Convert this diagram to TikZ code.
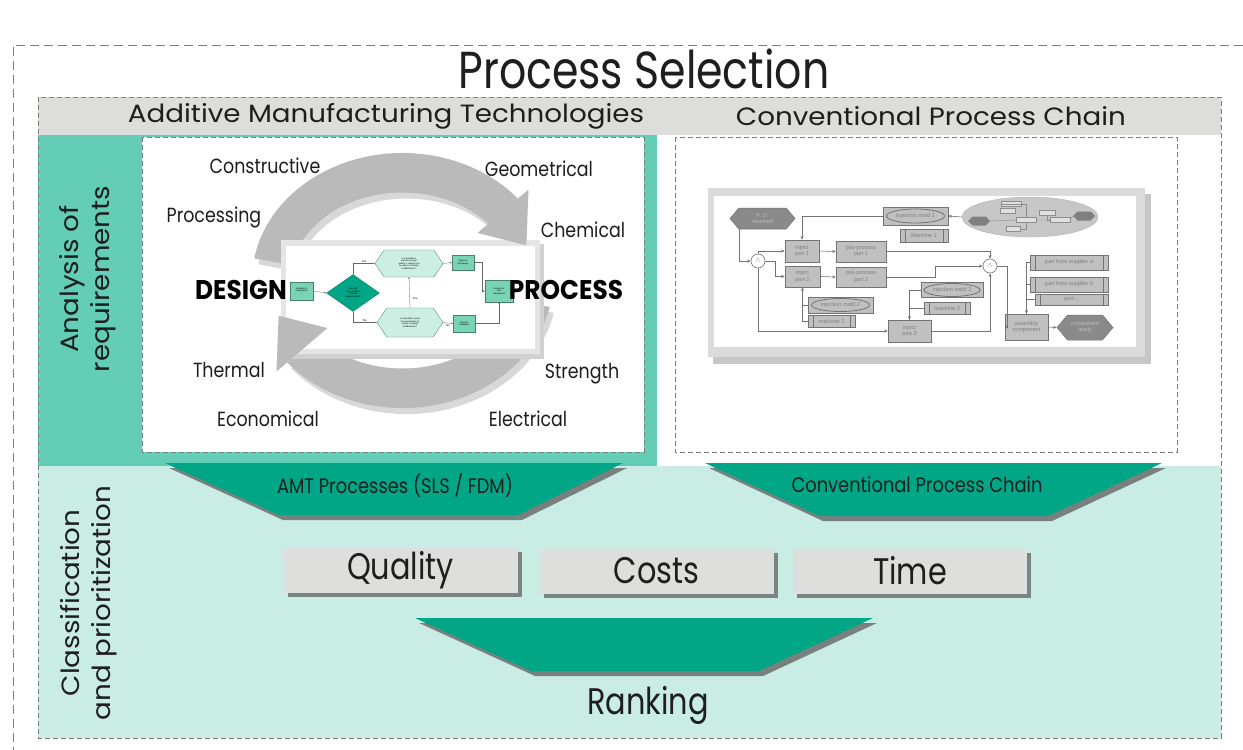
\documentclass[tikz,border=0pt]{standalone}
\usepackage{fontspec}
\setmainfont{Poppins}[FakeStretch=0.82]
\newfontfamily\fW{Poppins}[FakeStretch=1.11]
\newfontfamily\fL{Poppins}[FakeStretch=0.85]
\newfontfamily\fD{Poppins}[FakeStretch=0.92]
\newfontfamily\smallf{Liberation Sans}
\usetikzlibrary{calc,shapes.geometric,shapes.symbols,arrows.meta,shadows}
\definecolor{tealdark}{RGB}{0,166,133}
\definecolor{tealmid}{RGB}{99,206,181}
\definecolor{teallight}{RGB}{201,237,229}
\definecolor{hdrgray}{RGB}{221,221,219}
\definecolor{boxgray}{RGB}{222,222,220}
\definecolor{arcgray}{RGB}{186,186,186}
\definecolor{dashgray}{RGB}{125,125,125}
\definecolor{fcgreen}{RGB}{120,212,180}
\definecolor{fclight}{RGB}{205,238,226}
\definecolor{pgray}{RGB}{192,192,192}
\definecolor{pdark}{RGB}{138,138,138}
\definecolor{txt}{RGB}{30,30,30}
\newcommand\arcband[7]{% center, r_out x, r_out y, r_in x, r_in y, start, end
  ($(#1)+(#6:#2 and #3)$) arc[start angle=#6, end angle=#7, x radius=#2, y radius=#3]
  -- ($(#1)+(#7:#4 and #5)$) arc[start angle=#7, end angle=#6, x radius=#4, y radius=#5] -- cycle}
\begin{document}
\begin{tikzpicture}[x=1pt,y=-1pt,
  dashbox/.style={draw=dashgray, dash pattern=on 5pt off 3pt, line width=0.8pt},
  hdr/.style={font=\fW\fontsize{25}{28}\selectfont, text=txt, inner sep=0},
  side/.style={font=\fW\fontsize{25}{31}\selectfont, text=txt, inner sep=0, align=center, rotate=90},
  lbl/.style={font=\fL\fontsize{20.5}{23}\selectfont, text=txt, inner sep=0},
  big/.style={font=\fD\fontsize{27}{30}\bfseries\selectfont, text=black, inner sep=0},
  qbox/.style={fill=boxgray, minimum width=234pt, minimum height=45pt, inner sep=0,
     font=\fontsize{37}{40}\selectfont, text=txt,
     drop shadow={shadow xshift=4pt, shadow yshift=-4pt, fill=black!65, opacity=0.7}},
  traptxt/.style={font=\fL\fontsize{21}{24}\selectfont, text=txt, inner sep=0},
  fcbox/.style={draw=fcgreen!60!black, fill=fcgreen, line width=0.3pt, inner sep=0.3pt, align=center, font=\smallf\fontsize{2.2}{2.5}\selectfont},
  fchex/.style={signal, signal to=east and west, signal pointer angle=112, draw=fcgreen!60!black, fill=fclight, line width=0.3pt, inner sep=0.3pt, align=center, font=\smallf\fontsize{2.2}{2.5}\selectfont},
  fcarr/.style={draw=black!60, line width=0.3pt, -{Stealth[length=2pt,width=1.6pt]}},
  fclab/.style={font=\smallf\fontsize{2.8}{3}\selectfont, inner sep=0},
  pbox/.style={draw=black!55, fill=pgray, line width=0.5pt, inner sep=0.5pt, align=center, font=\smallf\fontsize{5.6}{6.4}\selectfont, text=black!50},
  phex/.style={signal, signal to=east and west, signal pointer angle=100, fill=pdark, draw=black!55, line width=0.5pt, inner sep=0.5pt, align=center, font=\smallf\fontsize{5.6}{6.4}\selectfont, text=black!25},
  pcirc/.style={circle, draw=black!55, fill=white, line width=0.6pt, minimum size=14pt, inner sep=0, font=\fontsize{7}{7}\selectfont, text=black!55},
  parr/.style={draw=black!55, line width=0.6pt, -{Stealth[length=3.5pt,width=3pt]}},
  pline/.style={draw=black!55, line width=0.6pt},
]
\useasboundingbox (0,0) rectangle (1243,750);
\fill[white] (0,0) rectangle (1243,750);
% outer frame
\draw[dashgray, dash pattern=on 9pt off 5pt, line width=0.9pt] (1243,45) -- (13,45) -- (13,750);
\node[font=\fontsize{52}{58}\selectfont, text=txt, inner sep=0] (title) at (644,69) {Process Selection};
% regions
\fill[hdrgray] (38,97) rectangle (1221,135);
\fill[tealmid] (38,135) rectangle (657,466);
\fill[teallight] (38,466) rectangle (1221,738);
\draw[dashbox] (38,97) rectangle (1221,738);
\draw[dashbox, fill=white] (142,137) rectangle (644,452);
\draw[dashbox, fill=white] (675,137) rectangle (1177,452);
\node[hdr] (hamt) at (386,116) {Additive Manufacturing Technologies};
\node[hdr] (hcpc) at (931,116) {Conventional Process Chain};
\node[side] (req) at (88,279) {Analysis of\\requirements};
\node[side] (cls) at (89,603) {Classification\\and prioritization};

% ---------- AM cycle ----------
\coordinate (ac) at (402.5,280.5);
\coordinate (acs) at (406.5,286.5);
\fill[black!25, opacity=0.6] \arcband{acs}{150.5}{127.5}{112}{88}{190}{320};
\fill[black!25, opacity=0.6] \arcband{acs}{150.5}{127.5}{112}{88}{12}{140};
\fill[arcgray] \arcband{ac}{150.5}{127.5}{112}{88}{190}{320};
\fill[arcgray] \arcband{ac}{150.5}{127.5}{112}{88}{12}{140};
% inner panel
\fill[black!18] (284,244) rectangle (544,359);
\fill[black!10] (281,240) rectangle (540,354);
\fill[white] (286,246) rectangle (535,349);
% arrow heads
\fill[arcgray] ($(ac)+(320:164.5 and 141.5)$) -- ($(ac)+(341:131 and 108)$) -- ($(ac)+(320:98 and 74)$) -- cycle;
\fill[arcgray] ($(ac)+(140:164.5 and 141.5)$) -- ($(ac)+(161:131 and 108)$) -- ($(ac)+(140:98 and 74)$) -- cycle;
% mini flowchart
\node[fcbox, minimum width=23pt, minimum height=18pt] (a1) at (301.5,291) {Analysis of\\requirement\\i};
\node[diamond, aspect=1.43, fill=tealdark, draw=tealdark!70!black, line width=0.3pt, minimum width=53pt, minimum height=37pt, inner sep=0, align=center, font=\smallf\fontsize{2.2}{2.5}\selectfont] (dia) at (353,293) {Does the\\part geometry\\meet the\\requirements?};
\node[fchex, minimum width=68pt, minimum height=27pt] (h1) at (409,263.5) {Is it possible to\\improve the part\\quality or reduce cost\\by means of design\\modifications?};
\node[fchex, minimum width=66pt, minimum height=29pt] (h2) at (410,322.5) {Is it possible to meet\\the requirement by\\means of design\\modifications?};
\node[fcbox, minimum width=22pt, minimum height=15pt] (ap) at (463,262.5) {Approve\\part design};
\node[fcbox, minimum width=28pt, minimum height=22pt] (an) at (499,291) {Analysis of\\next\\requirement};
\node[fcbox, minimum width=22pt, minimum height=17pt] (dc) at (464,323.5) {Discard\\Candidate};
\draw[fcarr] (a1.east) -- (dia.west);
\draw[fcarr] (dia.north) |- (h1.west) node[fclab, pos=0.75, above=1pt] (y1) {Yes};
\draw[fcarr] (dia.south) |- (h2.west) node[fclab, pos=0.75, above=1pt] (n1) {No};
\draw[fcarr] (h2.north) -- (h1.south) node[fclab, pos=0.3, right=3pt] (y2) {Yes};
\draw[fcarr] (h1.east) -- (ap.west);
\draw[fcarr] (h2.east) -- (dc.west) node[fclab, midway, below=1pt] (n2) {No};
\draw[fcarr] (ap.east) -- ++(8,0) |- (an.west);
\draw[fcarr] (dc.east) -| (an.south);
% labels
\node[lbl] (l1) at (265,166) {Constructive};
\node[lbl] (l2) at (539,169) {Geometrical};
\node[lbl] (l3) at (214,217) {Processing};
\node[lbl] (l4) at (583,230) {Chemical};
\node[big] (ld) at (241,290) {DESIGN};
\node[big] (lp) at (566,290) {PROCESS};
\node[lbl] (l5) at (229,370) {Thermal};
\node[lbl] (l6) at (582,374) {Strength};
\node[lbl] (l7) at (268,419) {Economical};
\node[lbl] (l8) at (528,419) {Electrical};

% ---------- conventional process chain panel ----------
\fill[black!22] (713,194) rectangle (1151,364);
\fill[black!14] (708,188) rectangle (1145,357);
\fill[white] (714,196) rectangle (1136,347);
% ellipse sub-process
\node[ellipse, fill=black!22, draw=black!30, minimum width=136pt, minimum height=40pt, inner sep=0] (ell) at (1030,217) {};
\node[signal, signal to=east and west, fill=black!50, minimum width=22pt, minimum height=9pt, inner sep=0] (eh1) at (979,221) {};
\node[signal, signal to=east and west, fill=black!50, minimum width=22pt, minimum height=9pt, inner sep=0] (eh2) at (1084,216) {};
\node[draw=black!45, fill=black!12, minimum width=20pt, minimum height=5pt, inner sep=0] (eb1) at (1011,204) {};
\node[draw=black!45, fill=black!12, minimum width=15pt, minimum height=5pt, inner sep=0] (eb2) at (1008,211) {};
\node[draw=black!45, fill=black!12, minimum width=20pt, minimum height=5pt, inner sep=0] (eb3) at (1026,220) {};
\node[draw=black!45, fill=black!12, minimum width=14pt, minimum height=5pt, inner sep=0] (eb4) at (1013,229) {};
\node[draw=black!45, fill=black!12, minimum width=16pt, minimum height=5pt, inner sep=0] (eb5) at (1047,213) {};
\node[draw=black!45, fill=black!12, minimum width=20pt, minimum height=5pt, inner sep=0] (eb6) at (1060,220) {};
\draw[black!45, line width=0.4pt] (eh1.east) -- (eb3.west) (eb3.east) -- (eb6.west) (eb6.east) -- (eh2.west);
\draw[black!45, line width=0.4pt] (eb1.west) -| (eb3.north) (eb4.east) -| (eb3.south) (eb5.south) |- (eb6.west);

\node[phex, minimum width=65pt, minimum height=21pt] (po) at (762.5,218.5) {P. O.\\received};
\node[pcirc] (c1) at (758,261) {$\wedge$};
\node[pbox, minimum width=34pt, minimum height=22pt] (ip1) at (802,251) {inject\\part 1};
\node[pbox, minimum width=35pt, minimum height=21pt] (ip2) at (802.5,276.5) {inject\\part 2};
\node[pbox, minimum width=50pt, minimum height=21pt] (pp1) at (861,251.5) {pos-process\\part 1};
\node[pbox, minimum width=50pt, minimum height=20pt] (pp2) at (861,277) {pos-process\\part 2};
\node[pbox, minimum width=65pt, minimum height=18pt] (m1) at (915.5,216) {};
\node[ellipse, draw=black!55, line width=0.8pt, fill=pgray, minimum width=58pt, minimum height=14pt, inner sep=0, font=\smallf\fontsize{5.6}{6.4}\selectfont, text=black!50] (m1e) at (m1) {Injection mold 1};
\node[pbox, minimum width=48pt, minimum height=13pt] (mc1) at (924,235.5) {Machine 1};
\node[pbox, minimum width=65pt, minimum height=16pt] (m2) at (840.5,305) {};
\node[ellipse, draw=black!55, line width=0.8pt, fill=pgray, minimum width=58pt, minimum height=13pt, inner sep=0, font=\smallf\fontsize{5.6}{6.4}\selectfont, text=black!50] (m2e) at (m2) {injection mold 2};
\node[pbox, minimum width=47pt, minimum height=12pt] (mc2) at (831.5,321) {machine 2};
\node[pbox, minimum width=43pt, minimum height=22pt] (ip3) at (909.5,331) {inject\\part 3};
\node[pbox, minimum width=62pt, minimum height=15pt] (m3) at (952,290) {};
\node[ellipse, draw=black!55, line width=0.8pt, fill=pgray, minimum width=56pt, minimum height=13pt, inner sep=0, font=\smallf\fontsize{5.6}{6.4}\selectfont, text=black!50] (m3e) at (m3) {injection mold 3};
\node[pbox, minimum width=46pt, minimum height=12pt] (mc3) at (947,308) {machine 2};
\node[pcirc] (c2) at (990,266) {$\wedge$};
\node[pbox, minimum width=43pt, minimum height=26pt] (asm) at (1026.5,327) {assembly\\component};
\node[phex, minimum width=56pt, minimum height=25pt] (cr) at (1085,327.5) {component\\ready};
\node[pbox, minimum width=78pt, minimum height=15pt] (sa) at (1069,262.5) {part from supplier a};
\node[pbox, minimum width=78pt, minimum height=15pt] (sb) at (1069,284.5) {part from supplier b};
\node[pbox, minimum width=73pt, minimum height=11pt] (sp) at (1071.5,299.5) {part...};
\foreach \n in {mc1,mc2,mc3,sa,sb,sp}{
  \draw[black!55, line width=0.5pt] ($(\n.north west)+(5,0)$) -- ($(\n.south west)+(5,0)$);
  \draw[black!55, line width=0.5pt] ($(\n.north east)+(-5,0)$) -- ($(\n.south east)+(-5,0)$);
}
\draw[parr] ($(po.south)+(-23,0)$) |- (c1.west);
\draw[parr] (c1.north) |- (ip1.west);
\draw[parr] (c1.east) -- ++(10,0) |- (ip2.west);
\draw[parr] (c1.south) |- (ip3.west);
\draw[parr] (ip1.east) -- (pp1.west);
\draw[parr] (ip2.east) -- (pp2.west);
\draw[parr] (m1.west) -| (ip1.north);
\draw[parr] (m2.west) -| (ip2.south);
\draw[pline] (mc2.west) -| (ip2.south);
\draw[parr] (m3.west) -| (ip3.north);
\draw[pline] (mc3.west) -| (ip3.north);
\draw[parr] (pp1.east) -| (c2.north);
\draw[parr] (pp2.east) -- ++(49,0) |- (c2.west);
\draw[parr] (ip3.east) -| (c2.south);
\draw[parr] (c2.east) -- ++(10,0) |- (asm.west);
\draw[parr] (asm.east) -- (cr.west);
\draw[parr] (sa.west) -| (asm.north);
\draw[pline] (sb.west) -| (asm.north);
\draw[pline] (sp.west) -| (asm.north);
\draw[parr] (ell.west) -- (m1.east);

% ---------- trapezoids ----------
\fill[black!60, opacity=0.8] (169,468) -- (627,468) -- (522,520) -- (283,520) -- cycle;
\fill[tealdark] (165,463) -- (623,463) -- (518,515) -- (279,515) -- cycle;
\node[traptxt] (amtp) at (395,486) {AMT Processes (SLS / FDM)};
\fill[black!60, opacity=0.8] (709,468) -- (1166,468) -- (1052,521) -- (823,521) -- cycle;
\fill[tealdark] (705,463) -- (1162,463) -- (1048,516) -- (819,516) -- cycle;
\node[traptxt] (cpcp) at (917,485) {Conventional Process Chain};
% boxes
\node[qbox] (qual) at (400.5,570.5) {Quality};
\node[qbox] (cost) at (656.5,571) {Costs};
\node[qbox] (time) at (910,571) {Time};
% ranking
\fill[black!60, opacity=0.8] (419,623) -- (877,623) -- (763,676) -- (535,676) -- cycle;
\fill[tealdark] (415,618) -- (873,618) -- (759,671) -- (531,671) -- cycle;
\node[font=\fontsize{37}{40}\selectfont, text=txt, inner sep=0] (rank) at (648,705) {Ranking};
\end{tikzpicture}
\end{document}
